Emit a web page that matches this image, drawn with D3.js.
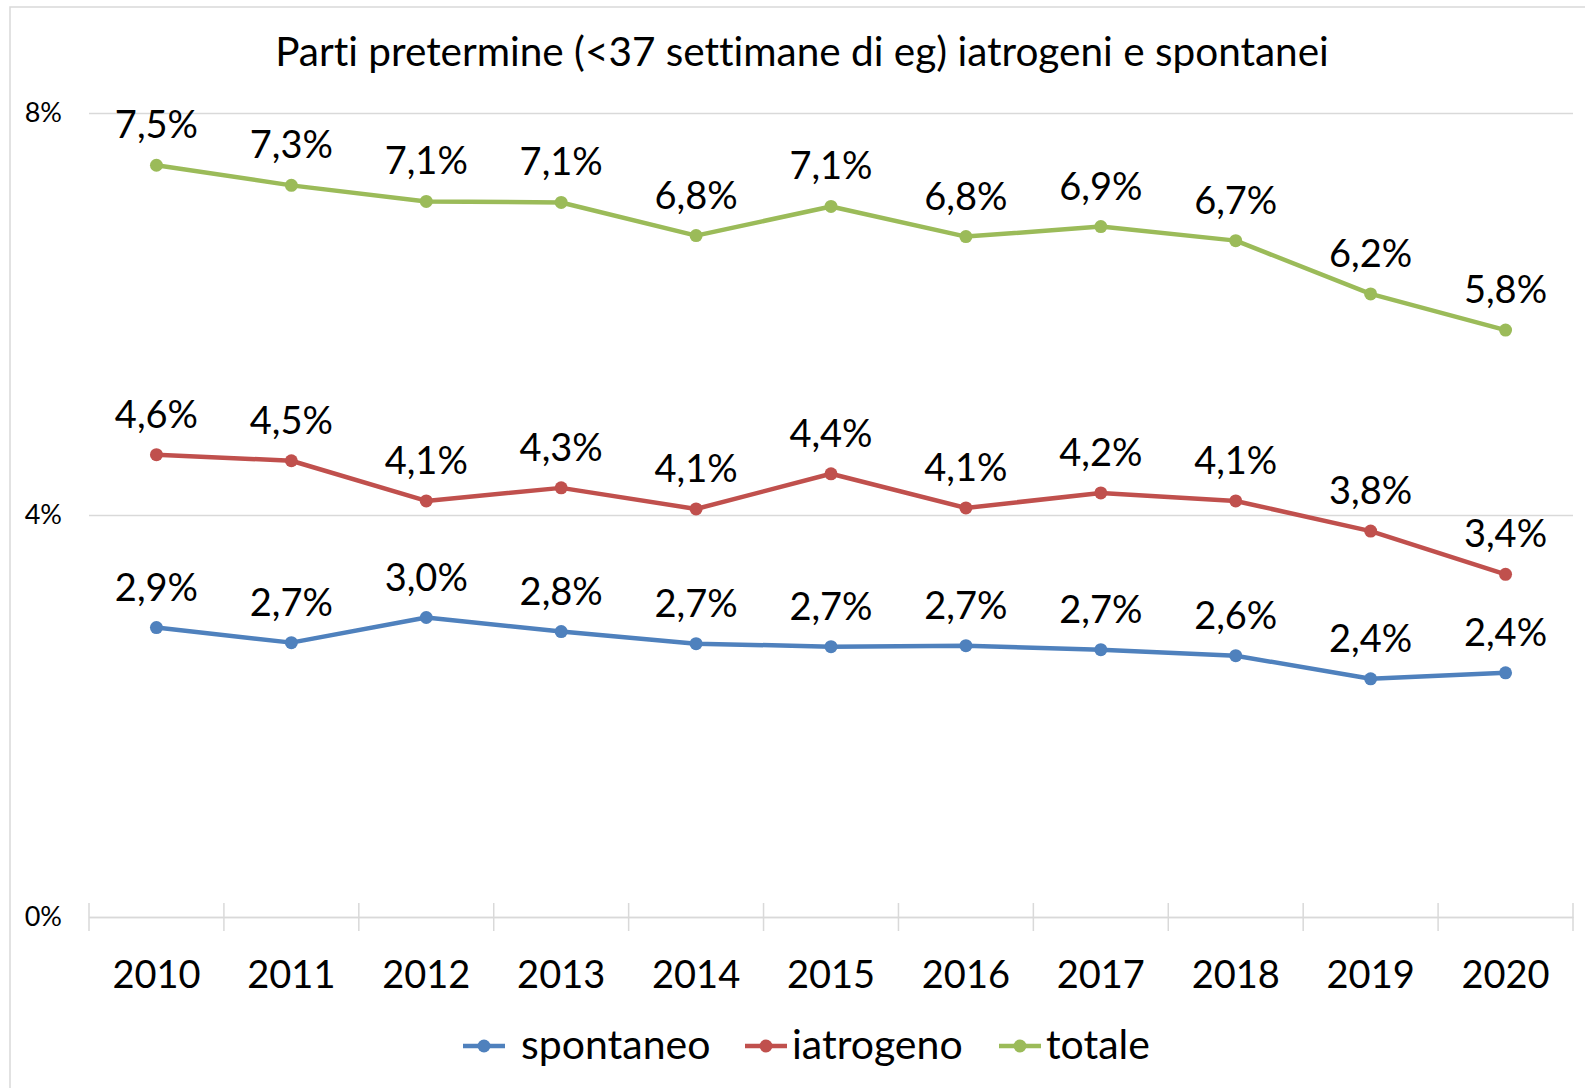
<!DOCTYPE html>
<html>
<head>
<meta charset="utf-8">
<script src="https://cdn.jsdelivr.net/npm/d3@7"></script>
<style>
  html, body { margin: 0; padding: 0; background: #fff; }
  svg { display: block; font-family: Lato, 'Open Sans', sans-serif; font-variant-ligatures: none; }
</style>
</head>
<body>
<div id="chart"></div>
<script>
const years = ['2010', '2011', '2012', '2013', '2014', '2015', '2016', '2017', '2018', '2019', '2020'];
const spontaneo = [2.88, 2.73, 2.98, 2.84, 2.72, 2.69, 2.70, 2.66, 2.60, 2.37, 2.43];
const iatrogeno = [4.60, 4.54, 4.14, 4.27, 4.06, 4.41, 4.07, 4.22, 4.14, 3.84, 3.41];
const totale = [7.48, 7.28, 7.12, 7.11, 6.78, 7.07, 6.77, 6.87, 6.73, 6.20, 5.84];
const yTicks = [0, 4, 8];
const seriesNames = ['spontaneo', 'iatrogeno', 'totale'];
const seriesColors = ['#4F81BD', '#C0504D', '#9BBB59'];
const title = 'Parti pretermine (<37 settimane di eg) iatrogeni e spontanei';

const width = 1585;
const height = 1088;
const plot = { left: 89, right: 1573, top: 113, bottom: 917 };

const svg = d3.select('#chart')
  .append('svg')
  .attr('width', width)
  .attr('height', height);

// chart frame (cut off at right / bottom like the source)
svg.append('rect')
  .attr('x', 10).attr('y', 7)
  .attr('width', 1640).attr('height', 1140)
  .attr('fill', '#fff')
  .attr('stroke', '#d9d9d9')
  .attr('stroke-width', 1.5);

const x = d3.scaleBand().domain(years).range([plot.left, plot.right]);
const y = d3.scaleLinear().domain([0, 8]).range([plot.bottom, plot.top]);

// gridlines + y labels
const yAxis = svg.append('g')
  .attr('transform', `translate(${plot.left},0)`)
  .call(d3.axisLeft(y).tickValues(yTicks).tickSize(-(plot.right - plot.left)).tickFormat(d => d + '%'));
yAxis.select('.domain').remove();
yAxis.selectAll('.tick line').attr('stroke', '#d9d9d9').attr('stroke-width', 1.5);
yAxis.selectAll('.tick text')
  .attr('x', 62 - plot.left)
  .attr('font-size', 27)
  .attr('font-family', 'Lato, sans-serif')
  .attr('fill', '#000');

// x axis labels
const xAxis = svg.append('g')
  .attr('transform', `translate(0,${plot.bottom})`)
  .call(d3.axisBottom(x).tickSize(0).tickPadding(0));
xAxis.select('.domain').attr('stroke', '#d9d9d9').attr('stroke-width', 1.5);
xAxis.selectAll('.tick text')
  .attr('y', 71)
  .attr('dy', 0)
  .attr('font-size', 38)
  .attr('font-family', 'Lato, sans-serif')
  .attr('fill', '#000');

// category boundary ticks
const bounds = d3.range(years.length + 1).map(i => plot.left + i * x.step());
svg.append('g').selectAll('line')
  .data(bounds)
  .join('line')
  .attr('x1', d => d).attr('x2', d => d)
  .attr('y1', plot.bottom - 14).attr('y2', plot.bottom + 14)
  .attr('stroke', '#d9d9d9')
  .attr('stroke-width', 1.5);

const series = [spontaneo, iatrogeno, totale];
const cx = i => x(years[i]) + x.bandwidth() / 2;
const line = d3.line().x((d, i) => cx(i)).y(d => y(d));
const fmt = v => d3.format('.1f')(v).replace('.', ',') + '%';

series.forEach((vals, s) => {
  const g = svg.append('g');
  g.append('path')
    .datum(vals)
    .attr('d', line)
    .attr('fill', 'none')
    .attr('stroke', seriesColors[s])
    .attr('stroke-width', 4.5)
    .attr('stroke-linejoin', 'round')
    .attr('stroke-linecap', 'round');
  g.selectAll('circle')
    .data(vals)
    .join('circle')
    .attr('cx', (d, i) => cx(i))
    .attr('cy', d => y(d))
    .attr('r', 6.5)
    .attr('fill', seriesColors[s]);
});

// data labels on top
series.forEach((vals) => {
  svg.append('g').selectAll('text')
    .data(vals)
    .join('text')
    .attr('x', (d, i) => cx(i))
    .attr('y', d => y(d) - 27)
    .attr('text-anchor', 'middle')
    .attr('font-size', 38)
    .attr('fill', '#000')
    .text(d => fmt(d));
});

// title
svg.append('text')
  .attr('x', 802)
  .attr('y', 66)
  .attr('text-anchor', 'middle')
  .attr('font-size', 40.5)
  .attr('fill', '#000')
  .text(title);

// legend: line start and text start for each entry
const legendLineX = [463, 745, 999];
const legendTextX = [521, 792, 1046];
const legend = svg.append('g').attr('transform', 'translate(0,1046)');
seriesNames.forEach((name, s) => {
  const item = legend.append('g');
  item.append('line')
    .attr('x1', legendLineX[s]).attr('x2', legendLineX[s] + 42)
    .attr('y1', 0).attr('y2', 0)
    .attr('stroke', seriesColors[s])
    .attr('stroke-width', 4.5);
  item.append('circle').attr('cx', legendLineX[s] + 21).attr('cy', 0).attr('r', 6.5).attr('fill', seriesColors[s]);
  item.append('text')
    .attr('x', legendTextX[s])
    .attr('y', 13)
    .attr('font-size', 41)
    .attr('fill', '#000')
    .text(name);
});
</script>
</body>
</html>
